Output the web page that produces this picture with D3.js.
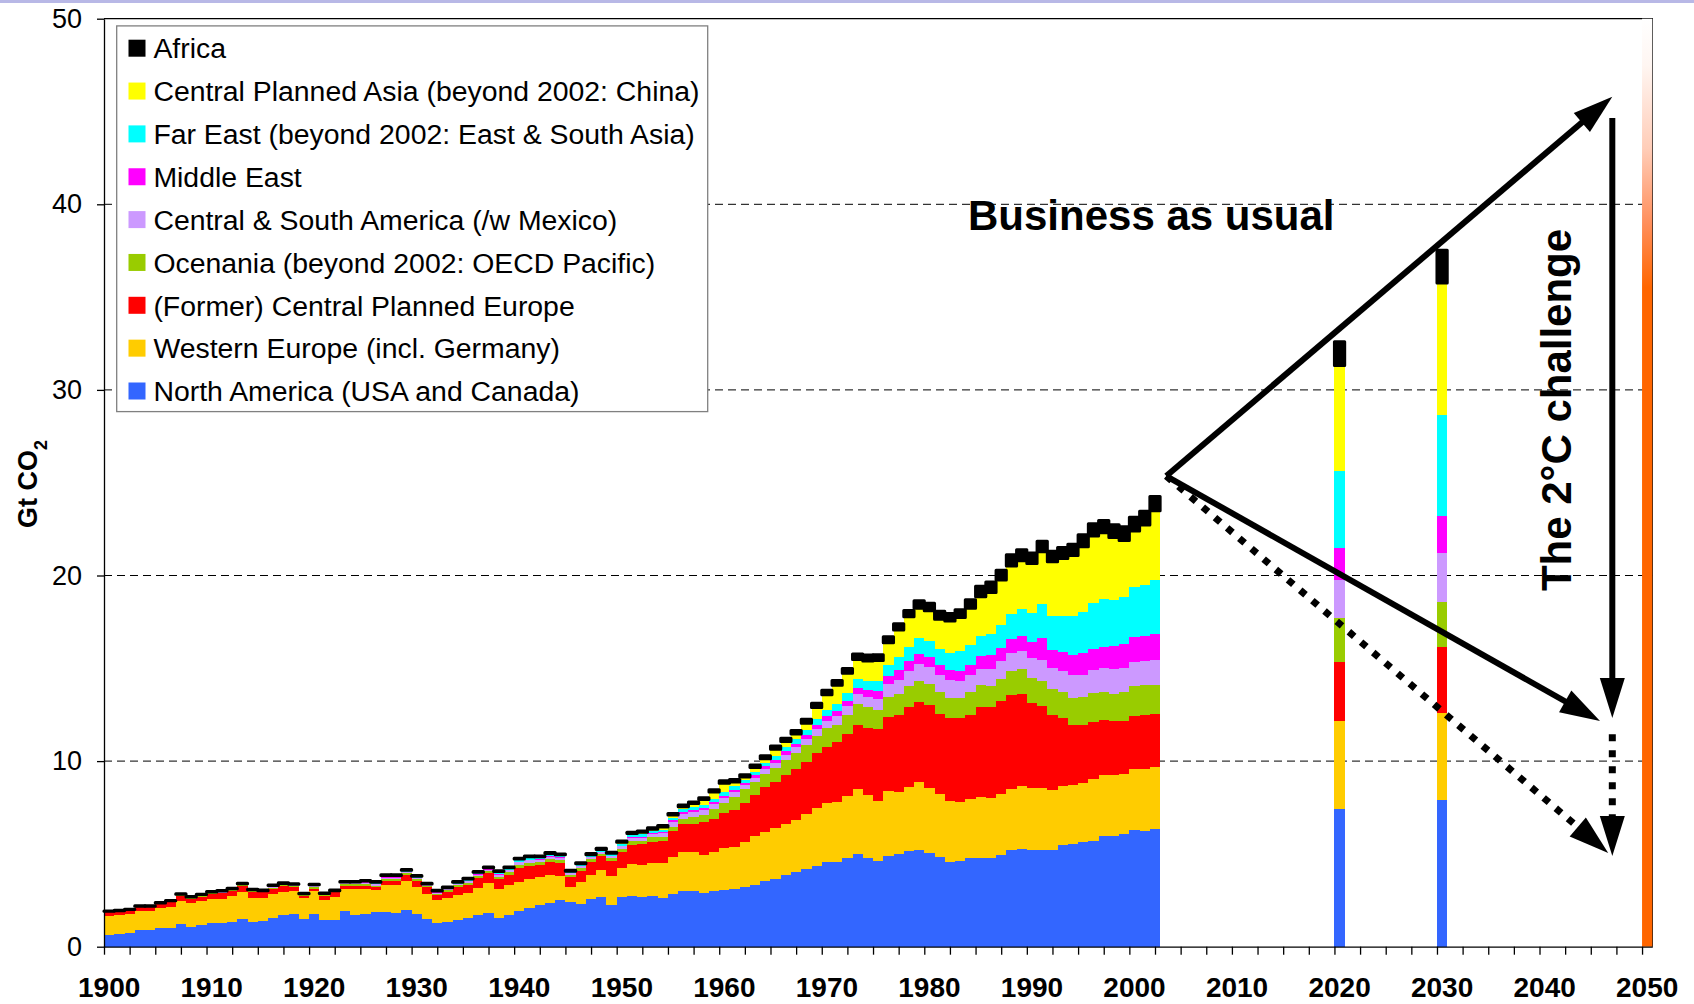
<!DOCTYPE html>
<meta charset="utf-8">
<style>
body{ margin:0; background:#fff; }
text{ font-family:"Liberation Sans", Arial, sans-serif; fill:#000; }
.grid line{ stroke:#000; stroke-width:1; stroke-dasharray:8,5; }
.axis path, .axis line{ stroke:#000; stroke-width:1.3; }
.ylab text{ font-size:27px; }
.xlab text{ font-size:28px; font-weight:bold; }
.legend text{ font-size:28.4px; }
.note{ font-size:42px; font-weight:bold; }
</style>
<body>
<div id="chart"></div>
<script src="https://d3js.org/d3.v7.min.js"></script>
<script>
// years 1900-2002 plus the two projection bars
var years = d3.range(1900, 2003).concat([2020, 2030]);

var northAmerica = [
 .63,.66,.72,.90,.90,1.01,1.01,1.22,1.06,1.15,
 1.28,1.28,1.33,1.49,1.33,1.38,1.54,1.69,1.76,1.49,
 1.76,1.44,1.44,1.92,1.71,1.76,1.85,1.85,1.81,1.98,
 1.76,1.49,1.29,1.33,1.44,1.56,1.71,1.80,1.56,1.71,
 1.92,2.10,2.24,2.35,2.51,2.41,2.32,2.57,2.69,2.24,
 2.69,2.75,2.69,2.73,2.64,2.84,3.00,3.00,2.89,3.00,
 3.05,3.11,3.23,3.32,3.54,3.65,3.86,4.02,4.18,4.36,
 4.56,4.56,4.80,4.99,4.80,4.63,4.89,4.99,5.15,5.21,
 5.05,4.83,4.56,4.62,4.78,4.78,4.78,4.94,5.21,5.26,
 5.21,5.21,5.21,5.46,5.53,5.64,5.69,5.96,5.96,6.07,
 6.29,6.23,6.34,
 7.42,7.92];
var westernEurope = [
 1.02,1.03,1.04,1.02,1.02,1.06,1.15,1.24,1.29,1.33,
 1.31,1.31,1.42,1.46,1.31,1.26,1.30,1.26,1.24,1.13,
 1.24,1.07,1.25,1.19,1.40,1.35,1.20,1.47,1.51,1.58,
 1.47,1.35,1.22,1.31,1.34,1.35,1.47,1.61,1.55,1.61,
 1.58,1.55,1.53,1.53,1.30,0.82,1.16,1.29,1.44,1.57,
 1.57,1.71,1.71,1.76,1.85,1.99,2.10,2.10,2.05,2.10,
 2.26,2.26,2.41,2.64,2.64,2.75,2.75,2.80,2.96,3.14,
 3.20,3.25,3.32,3.50,3.38,3.21,3.50,3.34,3.43,3.66,
 3.50,3.40,3.29,3.17,3.18,3.28,3.23,3.29,3.28,3.40,
 3.34,3.34,3.23,3.21,3.20,3.18,3.34,3.29,3.29,3.23,
 3.28,3.36,3.36,
 4.74,4.69];
var centralEurope = [
 .24,.23,.22,.20,.24,.23,.25,.29,.24,.21,
 .27,.28,.25,.34,.32,.29,.27,.34,.23,.13,
 .11,.24,.24,.18,.18,.18,.15,.24,.24,.30,
 .33,.36,.27,.32,.45,.41,.50,.54,.52,.54,
 .76,.70,.65,.70,.72,.54,.60,.72,.76,.81,
 .84,1.02,1.13,1.13,1.19,1.40,1.51,1.51,1.80,1.78,
 1.87,1.99,2.08,2.21,2.44,2.50,2.64,2.75,2.82,2.91,
 3.00,3.21,3.34,3.45,3.63,3.88,4.00,4.15,4.33,4.31,
 4.47,4.31,4.47,4.53,4.52,4.85,4.90,5.01,5.07,4.95,
 4.58,4.42,4.04,3.65,3.21,3.12,3.07,2.96,2.91,2.86,
 2.86,2.89,2.84,
 3.17,3.54];
var oceania = [
 .01,.01,.01,.02,.01,.02,.02,.03,.03,.04,
 .03,.05,.04,.04,.04,.03,.07,.04,.05,.04,
 .08,.04,.03,.07,.07,.09,.09,.09,.09,.09,
 .08,.06,.08,.07,.08,.12,.12,.11,.15,.14,
 .16,.17,.15,.15,.15,.10,.14,.13,.12,.14,
 .18,.20,.14,.27,.22,.23,.27,.40,.36,.52,
 .54,.72,.75,.70,.68,.72,.80,.85,.90,.95,
 1.00,.95,1.02,1.13,1.08,1.02,1.08,1.13,1.13,1.13,
 1.13,1.18,1.08,1.08,1.24,1.19,1.13,1.18,1.29,1.35,
 1.35,1.34,1.40,1.40,1.46,1.51,1.57,1.51,1.45,1.56,
 1.61,1.60,1.56,
 2.40,2.44];
var southAmerica = [
 .01,.00,.01,.02,.01,.02,.02,.02,.02,.03,
 .02,.03,.03,.03,.03,.02,.05,.03,.03,.03,
 .06,.03,.02,.05,.05,.07,.07,.07,.07,.07,
 .07,.05,.06,.06,.07,.09,.09,.08,.11,.11,
 .12,.13,.11,.12,.11,.08,.11,.10,.09,.11,
 .14,.18,.20,.18,.22,.25,.25,.25,.27,.27,
 .27,.25,.22,.24,.27,.29,.30,.32,.35,.38,
 .42,.45,.48,.52,.55,.60,.66,.76,.81,.92,
 .92,.92,.97,.93,.92,.86,.94,.97,.99,.97,
 1.09,1.14,1.13,1.13,1.24,1.19,1.24,1.29,1.35,1.29,
 1.30,1.31,1.35,
 2.05,2.64];
var middleEast = [
 0,0,0,0,0,0,0,.01,.01,.01,
 .01,.01,.01,.01,.01,.01,.01,.01,.01,.01,
 .01,.01,.01,.01,.01,.02,.02,.02,.02,.02,
 .01,.01,.01,.01,.01,.02,.02,.02,.03,.02,
 .03,.03,.03,.03,.03,.02,.02,.02,.02,.03,
 .03,.04,.04,.04,.05,.09,.11,.11,.11,.11,
 .13,.13,.12,.14,.14,.16,.17,.18,.19,.21,
 .24,.26,.28,.36,.38,.42,.46,.54,.54,.54,
 .54,.54,.54,.54,.54,.70,.73,.70,.74,.81,
 .85,1.20,.97,1.03,1.07,1.18,1.13,1.15,1.26,1.32,
 1.34,1.37,1.40,
 1.72,1.98];
var farEast = [
 0,.01,0,.01,0,.01,.01,.01,.02,.02,
 .02,.02,.02,.01,.02,.02,.03,.02,.02,.01,
 .04,.02,.02,.03,.03,.04,.05,.05,.05,.05,
 .04,.03,.04,.04,.04,.06,.06,.06,.08,.07,
 .08,.09,.08,.08,.08,.05,.07,.07,.06,.07,
 .10,.13,.14,.13,.14,.16,.16,.18,.18,.20,
 .22,.20,.17,.18,.20,.22,.23,.26,.28,.30,
 .36,.40,.44,.50,.52,.56,.60,.70,.76,.86,
 .86,.86,.91,1.06,1.07,1.08,1.14,1.24,1.34,1.45,
 1.56,1.81,1.84,1.94,2.11,2.21,2.48,2.57,2.46,2.51,
 2.70,2.71,2.91,
 4.13,5.44];
var centralAsia = [
 0,0,0,.01,0,.01,.01,.01,.01,.02,
 .01,.02,.02,.01,.01,.01,.03,.02,.02,.01,
 .04,.02,.01,.03,.03,.03,.04,.04,.04,.03,
 .04,.03,.03,.03,.04,.04,.04,.04,.05,.06,
 .07,.07,.05,.06,.05,.05,.05,.06,.06,.06,
 .08,.07,.11,.09,.14,.13,.14,.16,.27,.36,
 .47,.22,.16,.22,.22,.35,.30,.28,.36,.64,
 .80,1.01,1.05,1.03,1.06,1.10,1.19,1.45,1.63,1.60,
 1.63,1.60,1.73,1.81,1.98,2.12,2.24,2.43,2.59,2.61,
 2.67,2.82,2.92,3.10,3.26,3.52,3.61,3.58,3.37,3.04,
 3.02,3.25,3.73,
 5.69,7.11];
var africa = [
 .02,.02,.02,.02,.02,.02,.02,.02,.02,.02,
 .02,.03,.03,.03,.03,.03,.03,.03,.03,.03,
 .03,.03,.03,.03,.03,.03,.04,.04,.04,.04,
 .04,.04,.04,.04,.04,.04,.04,.04,.04,.04,
 .05,.05,.05,.05,.05,.05,.05,.06,.06,.06,
 .07,.07,.07,.08,.08,.08,.09,.09,.10,.12,
 .13,.13,.13,.14,.16,.17,.18,.19,.21,.23,
 .24,.25,.26,.29,.31,.31,.32,.34,.34,.41,
 .41,.43,.40,.41,.47,.56,.56,.52,.61,.59,
 .56,.56,.56,.59,.61,.65,.66,.66,.68,.74,
 .74,.74,.77,
 1.27,1.77];

var seriesKeys = ["na","we","cpe","oce","csa","me","fe","cpa","afr"];
var seriesNames = ["North America (USA and Canada)", "Western Europe (incl. Germany)",
  "(Former) Central Planned Europe", "Ocenania (beyond 2002: OECD Pacific)",
  "Central & South America (/w Mexico)", "Middle East",
  "Far East (beyond 2002: East & South Asia)", "Central Planned Asia (beyond 2002: China)", "Africa"];
var seriesColors = ["#3366ff","#ffcc00","#ff0000","#99cc00","#cc99ff","#ff00ff","#00ffff","#ffff00","#000000"];
var seriesValues = [northAmerica, westernEurope, centralEurope, oceania, southAmerica, middleEast, farEast, centralAsia, africa];

var limitYear = [2050], limitValue = [50];
var yTicks = [0, 10, 20, 30, 40, 50];
var xLabelYears = d3.range(1900, 2051, 10);

var width = 1694, height = 1004;
var svg = d3.select("#chart").append("svg").attr("width", width).attr("height", height);
svg.append("rect").attr("width", width).attr("height", height).attr("fill", "#fff");
svg.append("rect").attr("width", width).attr("height", 3).attr("fill", "#b8b8e6");

var x = d3.scaleBand().domain(d3.range(1900, 2051)).range([104, 1652.3]).padding(0);
var xl = d3.scaleLinear().domain([1900, 2051]).range([104, 1652.3]);
var y = d3.scaleLinear().domain([0, 50]).range([946.7, 18.7]);

// gradient for the 2050 bar
var grad = svg.append("defs").append("linearGradient").attr("id", "heat")
  .attr("x1", 0).attr("y1", 0).attr("x2", 0).attr("y2", 1);
[[0,"#ffffff"],[0.05,"#fff6f2"],[0.14,"#ffcdb8"],[0.22,"#ff8f5c"],[0.29,"#ff6600"],[1,"#ff6600"]]
  .forEach(function(s){ grad.append("stop").attr("offset", s[0]).attr("stop-color", s[1]); });

// grid
svg.append("g").attr("class", "grid").selectAll("line").data([10, 20, 30, 40]).enter()
  .append("line").attr("x1", 104).attr("x2", 1652.3).attr("y1", d => y(d)).attr("y2", d => y(d));

// frame
svg.append("path").attr("d", "M104," + y(50) + "H1652.3V" + y(0))
  .attr("fill", "none").attr("stroke", "#000").attr("stroke-width", 1.2);

// stacked bars
var rows = years.map(function(yr, i){
  var r = {year: yr};
  seriesKeys.forEach(function(k, j){ r[k] = seriesValues[j][i]; });
  return r;
});
var stacked = d3.stack().keys(seriesKeys)(rows);

var layers = svg.append("g").selectAll("g").data(stacked).enter().append("g")
  .attr("fill", (d, i) => seriesColors[i])
  .attr("stroke", d => d.key == "afr" ? "#000" : "none")
  .attr("stroke-width", d => d.key == "afr" ? 3 : 0)
  .attr("stroke-linejoin", "round")
  .attr("shape-rendering", d => d.key == "afr" ? "auto" : "crispEdges");
layers.selectAll("rect").data(d => d).enter().append("rect")
  .attr("x", d => x(d.data.year))
  .attr("width", x.bandwidth())
  .attr("y", d => y(d[1]))
  .attr("height", d => Math.max(0, y(d[0]) - y(d[1])));

svg.append("g").selectAll("rect").data(limitYear).enter().append("rect")
  .attr("x", d => x(d)).attr("width", x.bandwidth())
  .attr("y", (d, i) => y(limitValue[i])).attr("height", (d, i) => y(0) - y(limitValue[i]))
  .attr("fill", "url(#heat)");

// axes
var yAxis = svg.append("g").attr("class", "axis ylab").attr("transform", "translate(104,0)")
  .call(d3.axisLeft(y).tickValues(yTicks).tickSize(7).tickSizeOuter(0).tickPadding(15));
yAxis.selectAll("text").attr("font-family", null);

svg.append("g").attr("class", "axis").attr("transform", "translate(0," + y(0) + ")")
  .call(d3.axisBottom(xl).tickValues(d3.range(0, 61).map(k => 1900 + 2.5 * k))
    .tickSize(8).tickSizeOuter(0).tickFormat(""));

var xLab = svg.append("g").attr("class", "xlab").attr("transform", "translate(0," + y(0) + ")")
  .call(d3.axisBottom(x).tickValues(xLabelYears).tickSize(0).tickPadding(30));
xLab.select(".domain").remove();
xLab.selectAll("text").attr("font-family", null);

// y title
var yt = svg.append("text").attr("transform", "translate(37,484) rotate(-90)")
  .attr("text-anchor", "middle").style("font-size", "27px").style("font-weight", "bold");
yt.append("tspan").text("Gt CO");
yt.append("tspan").text("2").attr("baseline-shift", "sub").style("font-size", "18px");

// legend
var legend = svg.append("g").attr("class", "legend");
legend.append("rect").attr("x", 116.7).attr("y", 25.9).attr("width", 591).attr("height", 385.7)
  .attr("fill", "#fff").attr("stroke", "#808080").attr("stroke-width", 1.3);
var order = d3.range(seriesKeys.length).reverse();
var items = legend.selectAll("g.item").data(order).enter().append("g")
  .attr("transform", (d, i) => "translate(0," + (48.2 + i * 42.85) + ")");
items.append("rect").attr("x", 128.5).attr("y", -8.5).attr("width", 17).attr("height", 17)
  .attr("fill", d => seriesColors[d]);
items.append("text").attr("x", 153.4).attr("dy", "0.36em").text(d => seriesNames[d]);

// annotations
svg.append("text").attr("class", "note").attr("x", 968).attr("y", 230).text("Business as usual");
svg.append("text").attr("class", "note").attr("text-anchor", "middle")
  .attr("transform", "translate(1571,410) rotate(-90)").text("The 2\u00b0C challenge");

function arrow(p1, p2, dotted){
  var x1 = xl(p1[0]), y1 = y(p1[1]), x2 = xl(p2[0]), y2 = y(p2[1]);
  var dx = x2 - x1, dy = y2 - y1, len = Math.sqrt(dx*dx + dy*dy);
  var ux = dx / len, uy = dy / len, hl = 40, hw = 12.5;
  var bx = x2 - ux * hl, by = y2 - uy * hl;
  svg.append("line").attr("x1", x1).attr("y1", y1)
    .attr("x2", x2 - ux * hl * 0.7).attr("y2", y2 - uy * hl * 0.7)
    .attr("stroke", "#000").attr("stroke-width", dotted ? 7 : 6)
    .attr("stroke-dasharray", dotted ? "7,9" : null);
  svg.append("path").attr("d", "M" + x2 + "," + y2 + "L" + (bx - uy * hw) + "," + (by + ux * hw)
    + "L" + (bx + uy * hw) + "," + (by - ux * hw) + "Z").attr("fill", "#000");
}
var origin = [2003.6, 25.36];
arrow(origin, [2047.1, 45.8], false);
arrow(origin, [2045.9, 12.16], false);
arrow(origin, [2046.7, 5.05], true);
arrow([2047.1, 44.65], [2047.1, 12.32], false);
arrow([2047.1, 11.45], [2047.1, 4.89], true);
</script>
</body>
